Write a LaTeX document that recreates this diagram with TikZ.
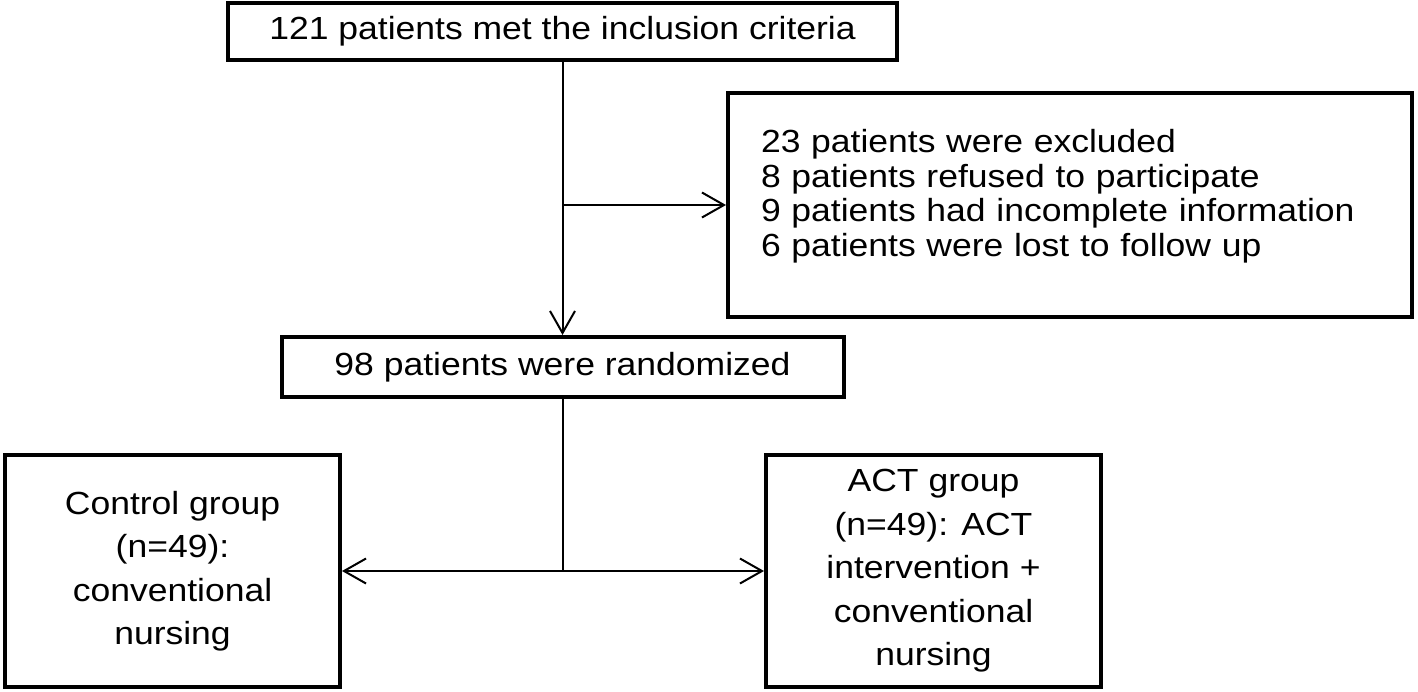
\documentclass[tikz,border=0pt]{standalone}
\usepackage{fontspec}
\setmainfont[FakeStretch=1.11]{Liberation Sans}
\usetikzlibrary{arrows.meta,positioning}

\begin{document}
\begin{tikzpicture}[
  x=0.5pt, y=-0.5pt,
  font=\fontsize{16}{17.3}\selectfont,
  box/.style={
    draw,
    line width=2pt,
    align=center,
    inner sep=2pt
  },
  group/.style={
    box,
    minimum width=167.5pt,
    minimum height=116pt,
    font=\fontsize{16}{21.75}\selectfont
  },
  line/.style={line width=1pt},
  arrow/.style={line, -{Straight Barb[length=11pt,width=12.5pt]}}
]
\useasboundingbox (0,0) rectangle (1418,691);

\node[box, minimum width=334.5pt, minimum height=28.5pt] (incl) at (562.5,31.5) {121 patients met the inclusion criteria};
\node[box, minimum width=281pt, minimum height=30pt, below=136.5pt of incl] (rand) {98 patients were randomized};
\node[box, align=left, text width=309pt, inner xsep=16.5pt, minimum height=112pt] (excl) at (1070,205) {23 patients were excluded\\8 patients refused to participate\\9 patients had incomplete information\\6 patients were lost to follow up\rule[-12pt]{0pt}{0pt}};
\node[group] (ctrl) at (172.5,571) {Control group\\(n=49):\\conventional\\nursing};
\node[group] (act) at (933.5,571) {ACT group\\(n=49): ACT\\intervention +\\conventional\\nursing};

\coordinate (exclsplit) at (incl.south |- excl.west);
\coordinate (grpsplit) at (rand.south |- ctrl.east);

\draw[arrow] (incl) -- (rand);
\draw[arrow] (exclsplit) -- (excl);
\draw[line] (rand) -- (grpsplit);
\draw[arrow] (grpsplit) -- (ctrl);
\draw[arrow] (grpsplit) -- (act);

\end{tikzpicture}
\end{document}
